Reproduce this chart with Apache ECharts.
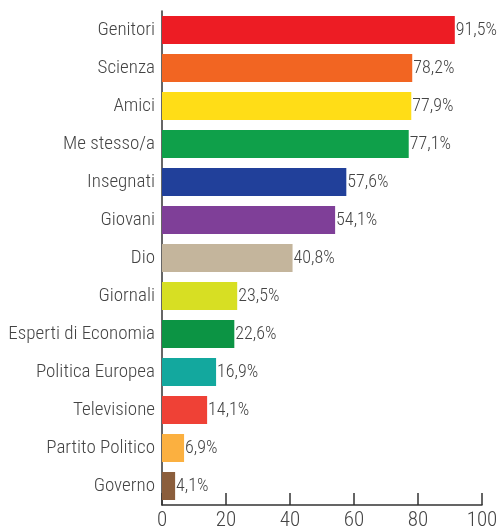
<!DOCTYPE html>
<html>
<head>
<meta charset="utf-8">
<script src="https://cdn.jsdelivr.net/npm/echarts@6/dist/echarts.min.js"></script>
<style>html,body{margin:0;padding:0;background:#fff}#c{width:498px;height:531px}</style>
</head>
<body>
<div id="c"></div>
<script>
var categories = ["Genitori","Scienza","Amici","Me stesso/a","Insegnati","Giovani","Dio","Giornali","Esperti di Economia","Politica Europea","Televisione","Partito Politico","Governo"];
var values = [91.5,78.2,77.9,77.1,57.6,54.1,40.8,23.5,22.6,16.9,14.1,6.9,4.1];
var colors = ["#ED1C24","#F26522","#FFDD17","#0FA04A","#21409A","#7F3F98","#C4B59C","#D7DF23","#0C9444","#13A89E","#EF4136","#FBB040","#8B5E3C"];
var xTicks = [0,20,40,60,80,100];

var FONT = "'Roboto Condensed','Liberation Sans Narrow',Roboto,sans-serif";
var chart = echarts.init(document.getElementById('c'));
chart.setOption({
  animation:false,
  grid:{left:162,right:16,top:11,bottom:26,containLabel:false,outerBoundsMode:'none'},
  xAxis:{type:'value',min:xTicks[0],max:xTicks[xTicks.length-1],interval:20,
    axisLine:{show:true,lineStyle:{color:'#333',width:1.5}},
    axisTick:{show:true,inside:true,length:12,lineStyle:{color:'#333',width:1.5}},
    splitLine:{show:false},
    axisLabel:{fontFamily:FONT,fontWeight:300,fontSize:21,color:'#444',margin:5}},
  yAxis:{type:'category',inverse:true,data:categories,
    axisLine:{show:true,lineStyle:{color:'#333',width:1.5}},
    axisTick:{show:false},
    axisLabel:{fontFamily:FONT,fontWeight:300,fontSize:19,color:'#444',margin:7}},
  series:[{type:'bar',barWidth:28,
    data:values.map(function(v,i){return {value:v,itemStyle:{color:colors[i]}};}),
    label:{show:true,position:'right',distance:1,fontFamily:FONT,fontWeight:300,fontSize:18,color:'#444',
      formatter:function(p){return String(p.value).replace('.',',')+'%';}}}]
});
</script>
</body>
</html>
